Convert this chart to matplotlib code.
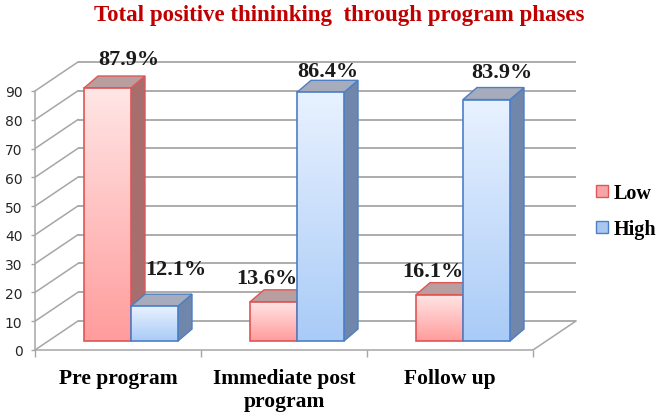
import numpy as np
import matplotlib
matplotlib.use("Agg")
import matplotlib.pyplot as plt
from matplotlib.patches import Polygon, Rectangle, Patch
from matplotlib.colors import LinearSegmentedColormap

# ---------------- data ----------------
categories = ["Pre program", "Immediate post\nprogram", "Follow up"]
series_names = ["Low", "High"]
low_values = [87.9, 13.6, 16.1]
high_values = [12.1, 86.4, 83.9]
y_ticks = [0, 10, 20, 30, 40, 50, 60, 70, 80, 90]
title = "Total positive thininking  through program phases"

# ---------------- layout (pixels) ----------------
W, H, DPI = 661, 414, 100
PX_X = 166.0          # pixels per category unit
PX_Y = 2.878          # pixels per value unit
AX_LEFT_PX, AX_BOTTOM_PX = 35, 351
XLIM = (-0.5, 2.8)
YLIM = (0, 105)
WALL_DX, WALL_DY = 43 / PX_X, 29 / PX_Y      # 3-D depth of the wall
BAR_SX, BAR_SY = 13 / PX_X, 9 / PX_Y         # bar front offset from front plane
BAR_DX, BAR_DY = 14 / PX_X, 12 / PX_Y        # bar depth
BAR_W = 47 / PX_X
YMAX = 90
# label nudges in pixels (dx, dy-up) relative to bar centre / back-top
low_nudge = [(21.5, 17), (-6.5, 12), (-7, 11.5)]
high_nudge = [(21.5, 25), (7.5, 9), (15.5, 15.5)]

SERIF = ["Liberation Serif", "DejaVu Serif"]
GRID = "#a6a6a6"

styles = {
    "Low": dict(top="#ffe6e6", bottom="#ff9c9c", edge="#e05555",
                side="#a86e6e", cap="#b89e9e", legend="#f6a6a6"),
    "High": dict(top="#e9f2ff", bottom="#a9cbf7", edge="#4d7fc6",
                 side="#7086aa", cap="#a6acbc", legend="#a9c8f0"),
}

fig = plt.figure(figsize=(W / DPI, H / DPI), dpi=DPI)
ax_w = (XLIM[1] - XLIM[0]) * PX_X
ax_h = (YLIM[1] - YLIM[0]) * PX_Y
ax = fig.add_axes([AX_LEFT_PX / W, (H - AX_BOTTOM_PX) / H, ax_w / W, ax_h / H])
ax.set_xlim(*XLIM)
ax.set_ylim(*YLIM)
ax.set_facecolor("none")

n = len(categories)
x_front0, x_front1 = -0.5, n - 0.5

# back wall gridlines and left-wall diagonals
for v in y_ticks:
    ax.plot([x_front0 + WALL_DX, x_front1 + WALL_DX], [v + WALL_DY, v + WALL_DY],
            color=GRID, lw=1.3, zorder=1, solid_capstyle="butt")
    ax.plot([x_front0, x_front0 + WALL_DX], [v, v + WALL_DY],
            color=GRID, lw=1.1, zorder=1)
# floor right edge
ax.plot([x_front1, x_front1 + WALL_DX], [0, WALL_DY], color=GRID, lw=1.1, zorder=1)

# spines / axes
for s in ["top", "right"]:
    ax.spines[s].set_visible(False)
ax.spines["left"].set_bounds(0, YMAX)
ax.spines["bottom"].set_bounds(x_front0, x_front1)
ax.spines["left"].set_color(GRID)
ax.spines["bottom"].set_color(GRID)
ax.spines["left"].set_linewidth(1.1)
ax.spines["bottom"].set_linewidth(1.1)
ax.set_yticks(y_ticks)
ax.set_yticklabels([str(t) for t in y_ticks], fontsize=10, family="DejaVu Sans",
                   color="#262626")
ax.tick_params(axis="y", length=3, width=1.0, color=GRID, pad=6)
ax.set_xticks(range(n))
ax.set_xticklabels(categories, fontsize=15.5, family=SERIF, fontweight="bold",
                   linespacing=1.2)
ax.set_xticks([i + 0.5 for i in range(-1, n)], minor=True)
ax.tick_params(axis="x", which="major", length=0, pad=13)
ax.tick_params(axis="x", which="minor", length=5, width=1.0, color=GRID)


def draw_bar(x0, value, st, z):
    x1 = x0 + BAR_W
    yb = BAR_SY
    yt = value + BAR_SY
    side = Polygon([(x1, yb), (x1 + BAR_DX, yb + BAR_DY), (x1 + BAR_DX, yt + BAR_DY), (x1, yt)],
                   closed=True, facecolor=st["side"], edgecolor=st["edge"], lw=1.0, zorder=z)
    cap = Polygon([(x0, yt), (x1, yt), (x1 + BAR_DX, yt + BAR_DY), (x0 + BAR_DX, yt + BAR_DY)],
                  closed=True, facecolor=st["cap"], edgecolor=st["edge"], lw=1.0, zorder=z)
    ax.add_patch(side)
    ax.add_patch(cap)
    cmap = LinearSegmentedColormap.from_list("g", [st["bottom"], st["top"]])
    grad = np.linspace(0, 1, 256).reshape(-1, 1)
    im = ax.imshow(grad, extent=[x0, x1, yb, yt], origin="lower", cmap=cmap,
                   aspect="auto", zorder=z + 0.1, interpolation="bilinear")
    front = Rectangle((x0, yb), BAR_W, value, facecolor="none",
                      edgecolor=st["edge"], lw=1.2, zorder=z + 0.2)
    ax.add_patch(front)
    im.set_clip_path(front)
    return (x0 + x1) / 2, yt + BAR_DY


z = 3
for i in range(n):
    for name, vals, nudges in (("Low", low_values, low_nudge), ("High", high_values, high_nudge)):
        st = styles[name]
        if name == "Low":
            x0 = i - BAR_W + BAR_SX
        else:
            x0 = i + BAR_SX
        cx, ytop = draw_bar(x0, vals[i], st, z)
        z += 1
        dx, dy = nudges[i]
        ax.annotate(f"{vals[i]:.1f}%", xy=(cx, ytop), xytext=(dx, dy),
                    textcoords="offset pixels", ha="center", va="center",
                    fontsize=16, family=SERIF, fontweight="bold", color="#1a1a1a",
                    zorder=50, annotation_clip=False)

ax.set_xlim(*XLIM)
ax.set_ylim(*YLIM)

# legend
handles = [Patch(facecolor=styles[s]["legend"], edgecolor=styles[s]["edge"], lw=1.0)
           for s in series_names]
fig.legend(handles, series_names, loc="upper left", bbox_to_anchor=(596 / W, 1 - 184 / H),
           frameon=False, prop=dict(family=SERIF, weight="bold", size=14.5),
           handlelength=0.6, handleheight=0.6, handletextpad=0.3, labelspacing=0.8,
           borderpad=0, borderaxespad=0)

fig.text(339 / W, 1 - 15 / H, title, ha="center", va="center", color="#c00000",
         fontsize=16.5, family=SERIF, fontweight="bold")

fig.savefig("out.png", dpi=DPI)
